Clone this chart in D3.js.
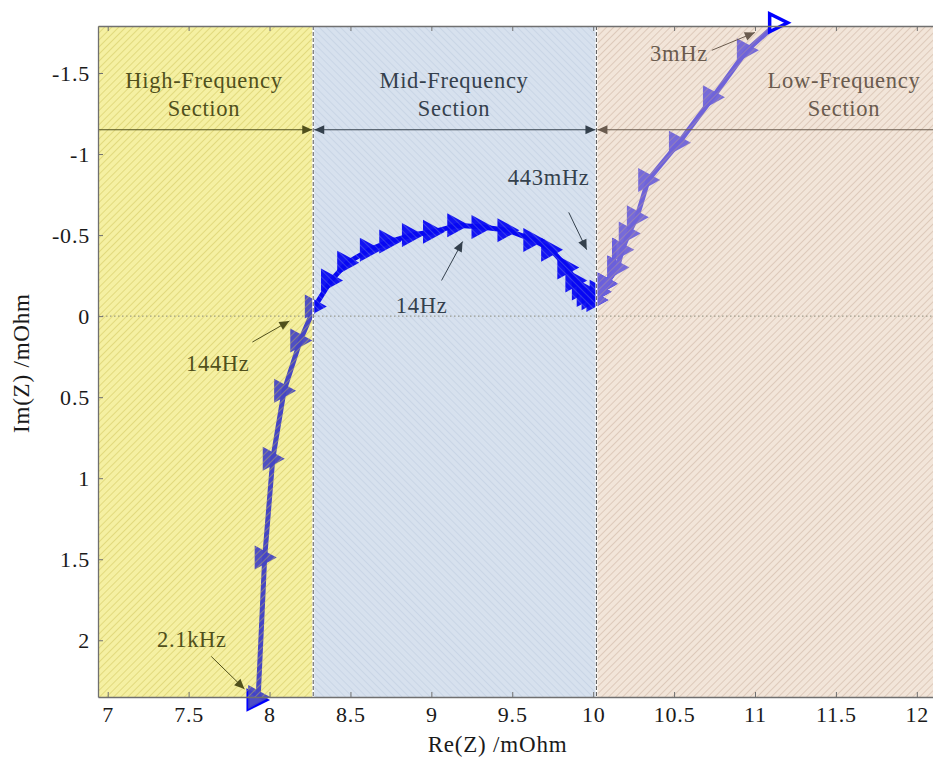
<!DOCTYPE html>
<html>
<head>
<meta charset="utf-8">
<script src="https://cdn.jsdelivr.net/npm/d3@7"></script>
<style>
  body { margin: 0; background: #fff; }
  svg text { font-family: "Liberation Serif", "Times New Roman", serif; }
</style>
</head>
<body>
<div id="chart"></div>
<script>
// Nyquist plot, three frequency sections

// data (Re, Im) in mOhm, from 2.1kHz down to 3mHz
var reZ = [7.93, 7.97, 8.02, 8.09, 8.19, 8.28,
  8.38, 8.48, 8.62, 8.74, 8.88, 9.01, 9.16, 9.31, 9.47, 9.63, 9.74, 9.84, 9.89, 9.93, 9.96, 9.99, 10.02,
  10.04, 10.08, 10.15, 10.18, 10.22, 10.27, 10.34, 10.53, 10.74, 10.95, 11.14];
var imZ = [2.35, 1.49, 0.88, 0.46, 0.15, -0.06,
  -0.22, -0.33, -0.41, -0.46, -0.50, -0.52, -0.56, -0.55, -0.53, -0.47, -0.41, -0.30, -0.22, -0.17, -0.13, -0.11, -0.10,
  -0.15, -0.20, -0.30, -0.41, -0.51, -0.61, -0.84, -1.07, -1.35, -1.64, -1.81];

var xTicks = [7, 7.5, 8, 8.5, 9, 9.5, 10, 10.5, 11, 11.5, 12];
var yTicks = [-1.5, -1, -0.5, 0, 0.5, 1, 1.5, 2];

// section limits on Re axis
var sectionNames = ["High-Frequency", "Mid-Frequency", "Low-Frequency"];
var sectionBounds = [6.94, 8.27, 10.02, 12.1];
var arrowLevel = -1.15;

// frequency notes: text position, arrow start, arrow end
var noteText = ["2.1kHz", "144Hz", "14Hz", "443mHz", "3mHz"];
var noteSection = [0, 0, 1, 1, 2];
var noteAt = [[7.52, 1.99], [7.68, 0.29], [8.94, -0.07], [9.725, -0.86], [10.53, -1.62]];
var noteFrom = [[7.64, 2.10], [7.894, 0.16], [9.063, -0.22], [9.849, -0.64], [10.733, -1.64]];
var noteTo = [[7.845, 2.30], [8.123, 0.03], [9.193, -0.46], [9.96, -0.41], [10.999, -1.75]];

var svgWidth = 933;
var svgHeight = 759;
var margin = { top: 26, right: 0, bottom: 62, left: 98 };
var width = svgWidth - margin.left - margin.right;
var height = svgHeight - margin.top - margin.bottom;

var bgColor = ["#f5f0a2", "#d7e1ee", "#f2e5d9"];
var hatchColor = ["rgba(200,190,80,0.55)", "rgba(165,184,208,0.35)", "rgba(190,160,140,0.5)"];
var inkColor = ["#50501c", "#34404c", "#6a5b4e"];
var lineColor = ["#4646c4", "#0707f2", "#6f63d9"];

var svg = d3.select("#chart").append("svg")
  .attr("width", svgWidth)
  .attr("height", svgHeight);

var defs = svg.append("defs");

var chartGroup = svg.append("g")
  .attr("transform", `translate(${margin.left}, ${margin.top})`);

var xScale = d3.scaleLinear().domain([6.94, 12.1]).range([0, width]);
var yScale = d3.scaleLinear().domain([-1.79, 2.35]).range([0, height]);

// hatch patterns, clip areas and arrow heads per section
sectionNames.forEach(function(name, i) {
  var p = defs.append("pattern")
    .attr("id", "hatch" + i)
    .attr("patternUnits", "userSpaceOnUse")
    .attr("width", 5).attr("height", 5)
    .attr("patternTransform", i == 1 ? "rotate(-45)" : "rotate(45)");
  p.append("line")
    .attr("x1", 0).attr("y1", 0).attr("x2", 0).attr("y2", 5)
    .attr("stroke", hatchColor[i]).attr("stroke-width", 1.6);

  defs.append("clipPath").attr("id", "clip" + i)
    .append("rect")
    .attr("x", i == 0 ? -margin.left : xScale(sectionBounds[i]))
    .attr("y", -margin.top)
    .attr("width", i == 0 ? xScale(sectionBounds[1]) + margin.left : xScale(sectionBounds[i + 1]) - xScale(sectionBounds[i]) + 20)
    .attr("height", svgHeight);

  var m = defs.append("marker")
    .attr("id", "head" + i)
    .attr("markerUnits", "userSpaceOnUse")
    .attr("viewBox", "0 -5 10 10")
    .attr("refX", 10).attr("refY", 0)
    .attr("markerWidth", 12).attr("markerHeight", 10)
    .attr("orient", "auto-start-reverse");
  m.append("path").attr("d", "M0,-4.5L10,0L0,4.5Z").attr("fill", inkColor[i]);
});

// section backgrounds
chartGroup.selectAll(".section")
  .data(sectionNames)
  .enter()
  .append("rect")
  .attr("x", (d, i) => xScale(sectionBounds[i]))
  .attr("y", 0)
  .attr("width", (d, i) => xScale(sectionBounds[i + 1]) - xScale(sectionBounds[i]))
  .attr("height", height)
  .attr("fill", (d, i) => bgColor[i]);

// zero line
chartGroup.append("line")
  .attr("x1", 0).attr("x2", width)
  .attr("y1", yScale(0)).attr("y2", yScale(0))
  .attr("stroke", "#8a8a7a").attr("stroke-width", 1)
  .attr("stroke-dasharray", "1.5,2.5");

var points = reZ.map((d, i) => [d, imZ[i]]);
var lineGen = d3.line().x(d => xScale(d[0])).y(d => yScale(d[1]));
var triangle = "M-10,-12L12,0L-10,12Z";

// open start marker sits under the filled ones
chartGroup.append("path")
  .attr("d", "M-8,-9L10,0L-8,9Z")
  .attr("transform", `translate(${xScale(points[0][0]) - 2}, ${yScale(points[0][1]) + 3})`)
  .attr("fill", "#fff")
  .attr("stroke", "#0000ff")
  .attr("stroke-width", 3.5);

// impedance curve, coloured per section
sectionNames.forEach(function(name, s) {
  var g = chartGroup.append("g").attr("clip-path", `url(#clip${s})`);
  g.append("path")
    .datum(points)
    .attr("d", lineGen)
    .attr("fill", "none")
    .attr("stroke", lineColor[s])
    .attr("stroke-width", 5)
    .attr("stroke-linejoin", "round");
  g.selectAll(".tri")
    .data(points.slice(0, points.length - 1))
    .enter()
    .append("path")
    .attr("d", triangle)
    .attr("transform", d => `translate(${xScale(d[0])}, ${yScale(d[1])})`)
    .attr("fill", lineColor[s])
    .attr("fill-opacity", 0.95);
});

// hatching drawn over everything inside the plot
chartGroup.selectAll(".hatch")
  .data(sectionNames)
  .enter()
  .append("rect")
  .attr("x", (d, i) => xScale(sectionBounds[i]))
  .attr("y", 0)
  .attr("width", (d, i) => xScale(sectionBounds[i + 1]) - xScale(sectionBounds[i]))
  .attr("height", height)
  .attr("fill", (d, i) => `url(#hatch${i})`);

// last point as open triangle
chartGroup.append("path")
  .attr("d", "M-8,-9L10,0L-8,9Z")
  .attr("transform", `translate(${xScale(points[points.length - 1][0])}, ${yScale(points[points.length - 1][1])})`)
  .attr("fill", "#fff")
  .attr("stroke", "#0000ff")
  .attr("stroke-width", 3.5);

// section borders
[1, 2].forEach(function(i) {
  var bx = xScale(sectionBounds[i]);
  chartGroup.append("line")
    .attr("x1", bx).attr("x2", bx).attr("y1", 0).attr("y2", height)
    .attr("stroke", "#fff").attr("stroke-width", 2);
  chartGroup.append("line")
    .attr("x1", bx).attr("x2", bx).attr("y1", 0).attr("y2", height)
    .attr("stroke", "#555").attr("stroke-width", 1)
    .attr("stroke-dasharray", "4,2");
});

// section span arrows
var ay = yScale(arrowLevel);
chartGroup.append("line")
  .attr("x1", 0).attr("x2", xScale(sectionBounds[1]) - 1)
  .attr("y1", ay).attr("y2", ay)
  .attr("stroke", inkColor[0]).attr("stroke-width", 1.2)
  .attr("marker-end", "url(#head0)");
chartGroup.append("line")
  .attr("x1", xScale(sectionBounds[1]) + 1).attr("x2", xScale(sectionBounds[2]) - 1)
  .attr("y1", ay).attr("y2", ay)
  .attr("stroke", inkColor[1]).attr("stroke-width", 1.2)
  .attr("marker-start", "url(#head1)")
  .attr("marker-end", "url(#head1)");
chartGroup.append("line")
  .attr("x1", width).attr("x2", xScale(sectionBounds[2]) + 1)
  .attr("y1", ay).attr("y2", ay)
  .attr("stroke", inkColor[2]).attr("stroke-width", 1.2)
  .attr("marker-end", "url(#head2)");

// section titles
var titleX = [7.595, 9.14, 11.55];
sectionNames.forEach(function(name, i) {
  var t = chartGroup.append("text")
    .attr("x", xScale(titleX[i]))
    .attr("y", yScale(-1.5) + 15)
    .attr("text-anchor", "middle")
    .attr("fill", inkColor[i])
    .attr("font-size", 22.5)
    .style("letter-spacing", "0.7px");
  t.append("tspan").attr("x", xScale(titleX[i])).text(name);
  t.append("tspan").attr("x", xScale(titleX[i])).attr("dy", 28).text("Section");
});

// frequency notes
noteText.forEach(function(txt, i) {
  var c = inkColor[noteSection[i]];
  chartGroup.append("text")
    .attr("x", xScale(noteAt[i][0]))
    .attr("y", yScale(noteAt[i][1]))
    .attr("dy", "0.35em")
    .attr("text-anchor", "middle")
    .attr("font-size", 22.5)
    .style("letter-spacing", "0.7px")
    .attr("fill", c)
    .text(txt);
  chartGroup.append("line")
    .attr("x1", xScale(noteFrom[i][0])).attr("y1", yScale(noteFrom[i][1]))
    .attr("x2", xScale(noteTo[i][0])).attr("y2", yScale(noteTo[i][1]))
    .attr("stroke", c).attr("stroke-width", 1)
    .attr("marker-end", `url(#head${noteSection[i]})`);
});

// axes
var bottomAxis = d3.axisBottom(xScale).tickValues(xTicks)
  .tickFormat(d => String(d)).tickSizeInner(-5).tickSizeOuter(0).tickPadding(9);
var topAxis = d3.axisTop(xScale).tickValues(xTicks)
  .tickFormat("").tickSizeInner(-5).tickSizeOuter(0);
var leftAxis = d3.axisLeft(yScale).tickValues(yTicks)
  .tickFormat(d => String(d)).tickSizeInner(-5).tickSizeOuter(0).tickPadding(8);

var gx = chartGroup.append("g")
  .attr("transform", `translate(0, ${height})`)
  .call(bottomAxis);
var gt = chartGroup.append("g").call(topAxis);
var gy = chartGroup.append("g").call(leftAxis);

[gx, gt, gy].forEach(function(g) {
  g.select(".domain").attr("stroke", "#707070").attr("stroke-width", 1.3);
  g.selectAll(".tick line").attr("stroke", "#707070");
  g.selectAll(".tick text")
    .attr("font-size", 22)
    .attr("fill", "#1a1a1a")
    .style("letter-spacing", "0.8px");
});

// axis labels
chartGroup.append("text")
  .attr("x", width / 2 - 18)
  .attr("y", height + 55)
  .attr("text-anchor", "middle")
  .attr("font-size", 23)
  .attr("fill", "#1a1a1a")
  .style("letter-spacing", "0.8px")
  .text("Re(Z) /mOhm");

chartGroup.append("text")
  .attr("transform", "rotate(-90)")
  .attr("x", -(yScale(0.29)))
  .attr("y", -margin.left + 29)
  .attr("text-anchor", "middle")
  .attr("font-size", 23)
  .attr("fill", "#1a1a1a")
  .style("letter-spacing", "0.8px")
  .text("Im(Z) /mOhm");
</script>
</body>
</html>
